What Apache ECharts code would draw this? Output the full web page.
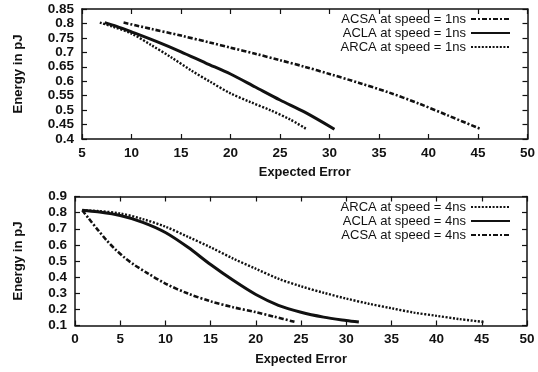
<!DOCTYPE html>
<html>
<head>
<meta charset="utf-8">
<script src="https://cdn.jsdelivr.net/npm/echarts@6/dist/echarts.min.js"></script>
<style>
html,body{margin:0;padding:0;background:#fff;}
#chart{width:538px;height:372px;}
</style>
</head>
<body>
<div id="chart"></div>
<script>
// ---- Data ----
// Top panel: speed = 1ns
const topAcsaX = [9.2, 12, 15, 18, 20, 22.5, 25, 27.5, 30, 33, 36, 39, 42, 45.3];
const topAcsaY = [0.803, 0.781, 0.758, 0.733, 0.716, 0.695, 0.673, 0.65, 0.625, 0.594, 0.561, 0.523, 0.481, 0.434];
const topAclaX = [7.3, 8.5, 10, 12.5, 15, 17.5, 20, 22.5, 25, 27.5, 30.5];
const topAclaY = [0.803, 0.79, 0.771, 0.738, 0.702, 0.663, 0.625, 0.58, 0.535, 0.493, 0.434];
const topArcaX = [6.8, 8, 10, 12, 14, 16, 18, 20, 22, 24, 26, 27.7];
const topArcaY = [0.803, 0.79, 0.765, 0.725, 0.683, 0.638, 0.597, 0.558, 0.528, 0.5, 0.468, 0.434];

// Bottom panel: speed = 4ns
const botArcaX = [0.8, 2.5, 5, 7.5, 10, 12.5, 15, 17.5, 20, 22.5, 25, 27.5, 30, 32.5, 35, 37.5, 40, 42.5, 45.2];
const botArcaY = [0.815, 0.81, 0.795, 0.76, 0.713, 0.65, 0.585, 0.515, 0.452, 0.39, 0.343, 0.303, 0.267, 0.235, 0.207, 0.18, 0.16, 0.14, 0.122];
const botAclaX = [0.8, 2.5, 5, 7.5, 10, 12.5, 15, 17.5, 20, 22.5, 25, 27.5, 30, 31.4];
const botAclaY = [0.815, 0.805, 0.782, 0.74, 0.677, 0.585, 0.478, 0.38, 0.292, 0.225, 0.182, 0.152, 0.131, 0.121];
const botAcsaX = [0.8, 1.5, 2.5, 3.5, 4.5, 5.5, 6.5, 8, 10, 12.5, 15, 17.5, 20, 22, 24.4];
const botAcsaY = [0.815, 0.765, 0.695, 0.628, 0.57, 0.52, 0.478, 0.425, 0.36, 0.298, 0.25, 0.213, 0.183, 0.155, 0.121];

const topNames = ['ACSA at speed = 1ns', 'ACLA at speed = 1ns', 'ARCA at speed = 1ns'];
const botNames = ['ARCA at speed = 4ns', 'ACLA at speed = 4ns', 'ACSA at speed = 4ns'];

const xTitle = 'Expected Error';
const yTitle = 'Energy in pJ';

// ---- Helpers ----
function zip(xs, ys) { return xs.map((x, i) => [x, ys[i]]); }
const INK = '#111';
const FONT = '"Liberation Sans", Arial, sans-serif';
const styles = {
  ACSA: { width: 2.6, type: [5, 2, 2, 2] },
  ACLA: { width: 3, type: 'solid' },
  ARCA: { width: 2.4, type: [2, 1.6] }
};
function mkSeries(name, xs, ys, xi, yi) {
  const key = name.slice(0, 4);
  return {
    name: name, type: 'line', xAxisIndex: xi, yAxisIndex: yi,
    data: zip(xs, ys), symbol: 'none', smooth: 0.3,
    lineStyle: { color: INK, width: styles[key].width, type: styles[key].type },
    itemStyle: { color: INK },
    emphasis: { disabled: true }, animation: false
  };
}
function xAxisCfg(grid, min, max, pos, main) {
  return {
    type: 'value', gridIndex: grid, min: min, max: max, interval: 5, position: pos,
    axisLine: { show: true, onZero: false, lineStyle: { color: INK, width: 1.5 } },
    axisTick: { show: true, inside: true, length: 5, lineStyle: { color: INK, width: 1.2 } },
    axisLabel: { show: main, color: INK, fontSize: 13.5, fontWeight: 'bold', fontFamily: FONT, margin: 7 },
    splitLine: { show: false },
    name: main ? xTitle : '', nameLocation: 'middle', nameGap: 27,
    nameTextStyle: { color: INK, fontSize: 12.8, fontWeight: 'bold', fontFamily: FONT }
  };
}
function yAxisCfg(grid, min, max, interval, pos, main, gap) {
  return {
    type: 'value', gridIndex: grid, min: min, max: max, interval: interval, position: pos,
    axisLine: { show: true, onZero: false, lineStyle: { color: INK, width: 1.5 } },
    axisTick: { show: true, inside: true, length: 5, lineStyle: { color: INK, width: 1.2 } },
    axisLabel: { show: main, color: INK, fontSize: 13.5, fontWeight: 'bold', fontFamily: FONT, margin: 8 },
    splitLine: { show: false },
    name: main ? yTitle : '', nameLocation: 'middle', nameGap: gap,
    nameTextStyle: { color: INK, fontSize: 13.2, fontWeight: 'bold', fontFamily: FONT }
  };
}
function legendCfg(names, top) {
  return {
    data: names, orient: 'vertical', align: 'right', right: 27, top: top,
    padding: 0, itemGap: 0, itemWidth: 39, itemHeight: 14,
    selectedMode: false,
    itemStyle: { opacity: 0 },
    textStyle: { color: INK, fontSize: 13, fontFamily: FONT, lineHeight: 14 }
  };
}

const chart = echarts.init(document.getElementById('chart'), null, { renderer: 'canvas' });
chart.setOption({
  backgroundColor: '#fff',
  animation: false,
  grid: [
    { left: 82, right: 6.5, top: 9, height: 130 },
    { left: 75, right: 11, top: 196.5, height: 129 }
  ],
  xAxis: [
    xAxisCfg(0, 5, 50, 'bottom', true),
    xAxisCfg(0, 5, 50, 'top', false),
    xAxisCfg(1, 0, 50, 'bottom', true),
    xAxisCfg(1, 0, 50, 'top', false)
  ],
  yAxis: [
    yAxisCfg(0, 0.4, 0.85, 0.05, 'left', true, 57),
    yAxisCfg(0, 0.4, 0.85, 0.05, 'right', false, 0),
    yAxisCfg(1, 0.1, 0.9, 0.1, 'left', true, 50),
    yAxisCfg(1, 0.1, 0.9, 0.1, 'right', false, 0)
  ],
  legend: [legendCfg(topNames, 12), legendCfg(botNames, 200)],
  series: [
    mkSeries(topNames[0], topAcsaX, topAcsaY, 0, 0),
    mkSeries(topNames[1], topAclaX, topAclaY, 0, 0),
    mkSeries(topNames[2], topArcaX, topArcaY, 0, 0),
    mkSeries(botNames[0], botArcaX, botArcaY, 2, 2),
    mkSeries(botNames[1], botAclaX, botAclaY, 2, 2),
    mkSeries(botNames[2], botAcsaX, botAcsaY, 2, 2)
  ]
});
</script>
</body>
</html>
